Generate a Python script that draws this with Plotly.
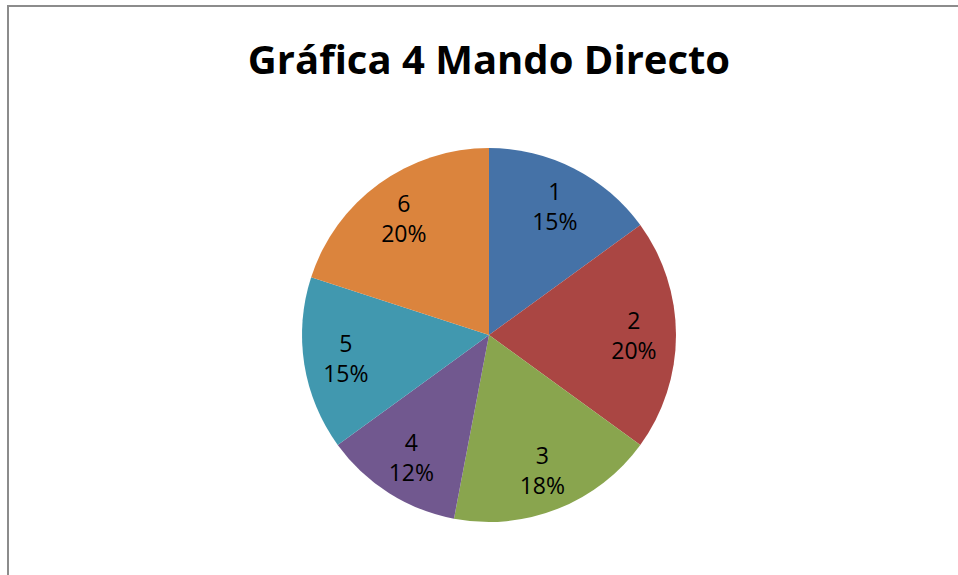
import plotly.graph_objects as go

categories = ["1", "2", "3", "4", "5", "6"]
values = [15, 20, 18, 12, 15, 20]
colors = ["#4572A7", "#AA4643", "#89A54E", "#71588F", "#4198AF", "#DB843D"]

W, H = 958, 575
cx, cy, r = 489, 335, 187
dom = dict(x=[(cx - r) / W, (cx + r) / W], y=[1 - (cy + r) / H, 1 - (cy - r) / H])

fig = go.Figure()
# coloured slices
fig.add_trace(go.Pie(
    labels=categories, values=values, sort=False, direction="clockwise", rotation=0,
    marker=dict(colors=colors, line=dict(width=0)),
    textinfo="none", showlegend=False, hoverinfo="label+percent", domain=dom,
))
# transparent ring carrying the data labels (places them at ~0.77 of the radius)
fig.add_trace(go.Pie(
    labels=categories, values=values, sort=False, direction="clockwise", rotation=0,
    hole=0.55,
    marker=dict(colors=["rgba(0,0,0,0)"] * len(values), line=dict(width=0)),
    texttemplate="%{label}<br>%{percent:.0%}",
    textposition="inside", insidetextorientation="horizontal",
    textfont=dict(family="Open Sans", size=23, color="black"),
    showlegend=False, hoverinfo="skip", domain=dom,
))

fig.update_layout(
    width=W, height=H,
    margin=dict(l=0, r=0, t=0, b=0),
    paper_bgcolor="white",
    plot_bgcolor="white",
    title=dict(text="<b>Gráfica 4 Mando Directo</b>", x=489 / W, xanchor="center",
               y=1 - 60 / H, yanchor="middle",
               font=dict(family="Open Sans", size=40, color="black")),
    shapes=[dict(type="rect", xref="paper", yref="paper",
                 x0=8 / W, x1=1.02, y0=-0.02, y1=1 - 6 / H,
                 line=dict(color="#8c8c8c", width=2), fillcolor="rgba(0,0,0,0)")],
)

fig.write_html("out.html", config={"displayModeBar": False},
               post_script="document.body.style.margin='0';")
